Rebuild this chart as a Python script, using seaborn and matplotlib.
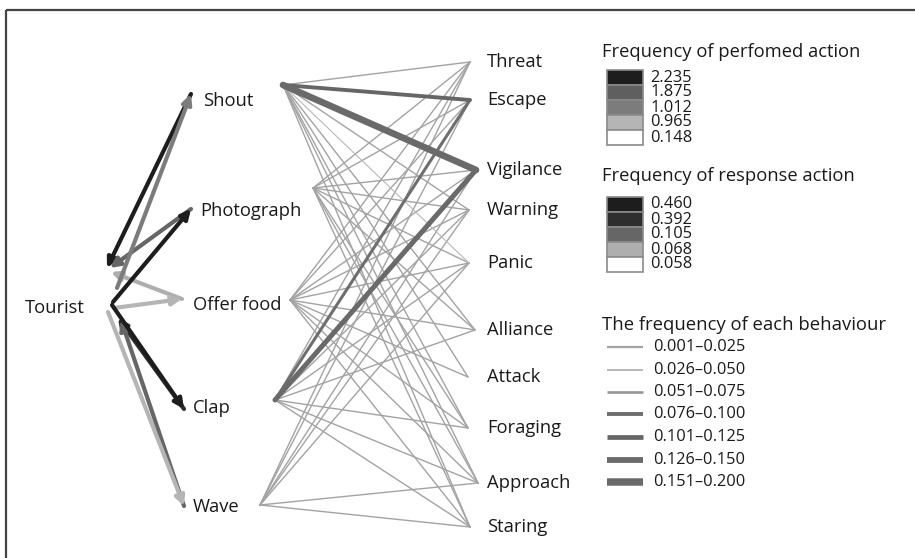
import numpy as np
import pandas as pd
import matplotlib
matplotlib.use("Agg")
import matplotlib.pyplot as plt
from matplotlib.patches import Rectangle
import seaborn as sns

# ---- data ----
actions = ["Shout", "Photograph", "Offer food", "Clap", "Wave"]
responses = ["Threat", "Escape", "Vigilance", "Warning", "Panic",
             "Alliance", "Attack", "Foraging", "Approach", "Staring"]

# frequency of performed action (tourist -> action) and response action (action -> tourist)
performed_freq = [1.012, 2.235, 0.965, 2.235, 0.965]
response_freq = [0.460, 0.105, 0.068, 0.392, 0.105]

performed_levels = [2.235, 1.875, 1.012, 0.965, 0.148]
performed_shades = ["#1d1d1d", "#5f5f5f", "#7c7c7c", "#b5b5b5", "#ffffff"]
response_levels = [0.460, 0.392, 0.105, 0.068, 0.058]
response_shades = ["#1d1d1d", "#2e2e2e", "#666666", "#aeaeae", "#ffffff"]

# behaviour links: action -> response, frequency
links_src = (["Shout"] * 10 + ["Photograph"] * 9 + ["Offer food"] * 10
             + ["Clap"] * 9 + ["Wave"] * 7)
links_dst = (responses
             + ["Threat", "Escape", "Vigilance", "Warning", "Panic", "Alliance", "Foraging", "Approach", "Staring"]
             + responses
             + ["Threat", "Escape", "Vigilance", "Warning", "Panic", "Alliance", "Foraging", "Approach", "Staring"]
             + ["Threat", "Escape", "Vigilance", "Warning", "Panic", "Approach", "Staring"])
links_freq = ([0.02, 0.11, 0.18, 0.02, 0.03, 0.02, 0.02, 0.02, 0.02, 0.02]
              + [0.02, 0.02, 0.02, 0.02, 0.02, 0.02, 0.02, 0.02, 0.02]
              + [0.02, 0.02, 0.02, 0.02, 0.02, 0.02, 0.02, 0.02, 0.02, 0.02]
              + [0.02, 0.09, 0.14, 0.02, 0.02, 0.02, 0.02, 0.02, 0.02]
              + [0.02, 0.02, 0.02, 0.02, 0.02, 0.02, 0.02])

band_labels = ["0.001\u20130.025", "0.026\u20130.050", "0.051\u20130.075", "0.076\u20130.100",
               "0.101\u20130.125", "0.126\u20130.150", "0.151\u20130.200"]
band_edges = [0.0, 0.0255, 0.0505, 0.0755, 0.1005, 0.1255, 0.1505, 0.2]
band_colors = ["#a3a3a3", "#b8b8b8", "#969696", "#6e6e6e", "#666666", "#6a6a6a", "#6a6a6a"]
band_widths = [1.0, 0.8, 1.3, 2.2, 2.8, 3.6, 4.8]

# ---- node layout (canvas pixels, y downwards) ----
tourist_xy = (25, 308)
action_arrow_tip = {"Shout": (191, 94), "Photograph": (191, 209), "Offer food": (182, 299),
                    "Clap": (184, 409), "Wave": (184, 506)}
action_label_xy = {"Shout": (203, 101), "Photograph": (200, 211), "Offer food": (193, 305),
                   "Clap": (193, 408), "Wave": (193, 507)}
action_port = {"Shout": (283, 85), "Photograph": (313, 188), "Offer food": (290, 300),
               "Clap": (275, 400), "Wave": (260, 505)}
tourist_out = {"Shout": (117, 288), "Photograph": (113, 302), "Offer food": (114, 308),
               "Clap": (112, 305), "Wave": (108, 312)}
tourist_in = {"Shout": (107, 268), "Photograph": (110, 268), "Offer food": (111, 272),
              "Clap": (118, 318), "Wave": (121, 320)}
response_port = {"Threat": (470, 62), "Escape": (470, 100), "Vigilance": (476, 170),
                 "Warning": (469, 210), "Panic": (469, 263), "Alliance": (475, 330),
                 "Attack": (468, 377), "Foraging": (468, 428), "Approach": (478, 483),
                 "Staring": (470, 527)}

sns.set_theme(style="white")
plt.rcParams["font.family"] = ["Open Sans", "DejaVu Sans"]

fig = plt.figure(figsize=(9.15, 5.58), dpi=100)
ax = fig.add_axes([0, 0, 1, 1])
ax.set_xlim(0, 915)
ax.set_ylim(558, 0)
ax.axis("off")

# frame (only top and left edges fall inside the canvas)
ax.add_patch(Rectangle((6, 10), 920, 560, fill=False, edgecolor="#444444", lw=1.6,
                       clip_on=False))

# behaviour links via seaborn lineplot
rows = []
for i, (s, d, f) in enumerate(zip(links_src, links_dst, links_freq)):
    band = band_labels[int(np.digitize(f, band_edges)) - 1]
    for (x, y) in (action_port[s], response_port[d]):
        rows.append({"edge": i, "x": x, "y": y, "band": band, "freq": f})
edges = pd.DataFrame(rows).sort_values(["freq", "edge"], kind="stable")
sns.lineplot(data=edges, x="x", y="y", units="edge", estimator=None, sort=False,
             hue="band", size="band", hue_order=band_labels, size_order=band_labels,
             palette=dict(zip(band_labels, band_colors)),
             sizes=dict(zip(band_labels, band_widths)), legend=False, ax=ax)
ax.set_xlabel("")
ax.set_ylabel("")


def shade(v, levels, shades):
    return shades[levels.index(v)]


# tourist <-> action arrows
for a, pf, rf in zip(actions, performed_freq, response_freq):
    ax.annotate("", xy=tourist_in[a], xytext=action_arrow_tip[a],
                arrowprops=dict(arrowstyle="-|>", lw=3.0, mutation_scale=14,
                                color=shade(rf, response_levels, response_shades),
                                shrinkA=0, shrinkB=0))
for a, pf, rf in zip(actions, performed_freq, response_freq):
    ax.annotate("", xy=action_arrow_tip[a], xytext=tourist_out[a],
                arrowprops=dict(arrowstyle="-|>", lw=3.0, mutation_scale=14,
                                color=shade(pf, performed_levels, performed_shades),
                                shrinkA=0, shrinkB=0))

# node labels
label_kw = dict(fontsize=13.2, color="#1a1a1a", va="center")
ax.text(*tourist_xy, "Tourist", ha="left", **label_kw)
for a in actions:
    ax.text(*action_label_xy[a], a, ha="left", **label_kw)
for r in responses:
    x, y = response_port[r]
    ax.text(487, y, r, ha="left", **label_kw)


# legends: performed / response action shades
def shade_legend(title, title_y, top, levels, shades):
    ax.text(602, title_y, title, fontsize=13.2, color="#1a1a1a", va="center")
    cell = 15
    for k, (v, c) in enumerate(zip(levels, shades)):
        ax.add_patch(Rectangle((607, top + k * cell), 36, cell, facecolor=c,
                               edgecolor="#8a8a8a", lw=1.2))
        ax.text(650, top + k * cell + cell / 2, f"{v:.3f}", fontsize=11.8,
                color="#1a1a1a", va="center")


shade_legend("Frequency of perfomed action", 52, 70, performed_levels, performed_shades)
shade_legend("Frequency of response action", 176, 197, response_levels, response_shades)

# legend: behaviour frequency
ax.text(602, 325, "The frequency of each behaviour", fontsize=13.3, color="#1a1a1a", va="center")
row_y = [347, 370, 392, 414, 437, 460, 482]
for lab, c, w, y in zip(band_labels, band_colors, band_widths, row_y):
    ax.plot([607, 643], [y, y], color=c, lw=w + 0.6, solid_capstyle="butt")
    ax.text(653, y, lab, fontsize=11.8, color="#1a1a1a", va="center")

fig.savefig("out.png", dpi=100)
